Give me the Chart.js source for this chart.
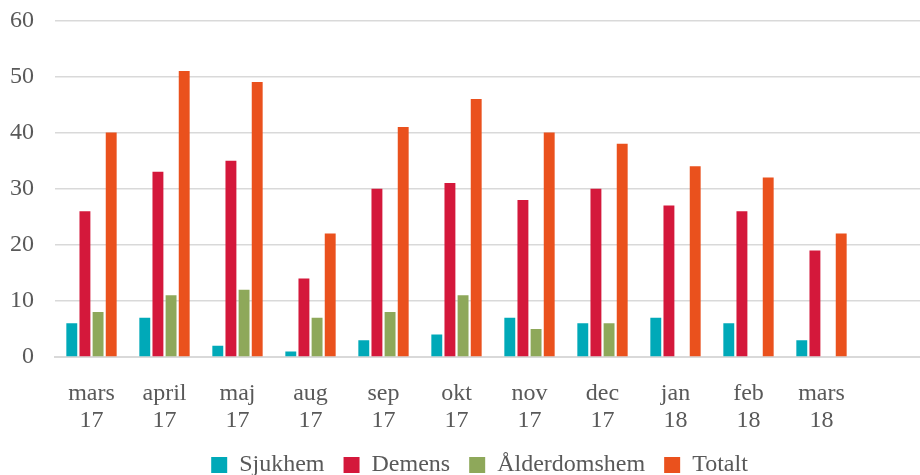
<!DOCTYPE html>
<html>
<head>
<meta charset="utf-8">
<script src="https://cdn.jsdelivr.net/npm/chart.js@4/dist/chart.umd.min.js"></script>
<style>
  html, body { margin: 0; padding: 0; background: #fff; overflow: hidden; }
  #wrap { width: 959px; height: 502px; margin-top: -15px; }
</style>
</head>
<body>
<div id="wrap"><canvas id="chart"></canvas></div>
<script>
// Data
const months = [['mars', '17'], ['april', '17'], ['maj', '17'], ['aug', '17'], ['sep', '17'], ['okt', '17'],
                ['nov', '17'], ['dec', '17'], ['jan', '18'], ['feb', '18'], ['mars', '18'], ''];
const sjukhem = [6, 7, 2, 1, 3, 4, 7, 6, 7, 6, 3, null];
const demens = [26, 33, 35, 14, 30, 31, 28, 30, 27, 26, 19, null];
const alderdomshem = [8, 11, 12, 7, 8, 11, 5, 6, null, null, null, null];
const totalt = [40, 51, 49, 22, 41, 46, 40, 38, 34, 32, 22, null];
const yTicks = [0, 10, 20, 30, 40, 50, 60];

const textColor = '#595959';
const gridColor = '#d9d9d9';
const serif = 'Liberation Serif, Times New Roman, serif';

const ctx = document.getElementById('chart').getContext('2d');

function bars(label, data, color) {
    return {
        label: label,
        data: data,
        backgroundColor: color,
        borderWidth: 0,
        categoryPercentage: 0.72,
        barPercentage: 0.83
    };
}

new Chart(ctx, {
    type: 'bar',
    data: {
        labels: months,
        datasets: [
            bars('Sjukhem', sjukhem, '#00a9b8'),
            bars('Demens', demens, '#d4183b'),
            bars('Ålderdomshem', alderdomshem, '#8ea85a'),
            bars('Totalt', totalt, '#ea511d')
        ]
    },
    options: {
        responsive: true,
        maintainAspectRatio: false,
        animation: false,
        layout: { padding: 0 },
        scales: {
            x: {
                afterFit: (scale) => { scale.height = 77; },   // padding + two label lines
                grid: { display: false, drawTicks: false },
                border: { display: true, color: gridColor, width: 2 },
                ticks: {
                    color: textColor,
                    font: { family: serif, size: 24, lineHeight: 1.1 },
                    padding: 24,
                    maxRotation: 0,
                    autoSkip: false
                }
            },
            y: {
                min: 0,
                max: 60,
                afterBuildTicks: (scale) => { scale.ticks = yTicks.map(v => ({ value: v })); },
                afterFit: (scale) => { scale.width = 55; },
                grid: { color: gridColor, lineWidth: 1.5, drawTicks: false },
                border: { display: false },
                ticks: {
                    color: textColor,
                    font: { family: serif, size: 24 },
                    padding: 21
                }
            },
            // empty right-hand axis, only reserves space so the plot ends where the original does
            yRight: {
                position: 'right',
                afterFit: (scale) => { scale.width = 28; },
                grid: { display: false, drawTicks: false },
                border: { display: false },
                ticks: { display: false }
            }
        },
        plugins: {
            legend: {
                position: 'bottom',
                labels: {
                    color: textColor,
                    font: { family: serif, size: 24 },
                    boxWidth: 16,
                    boxHeight: 16,
                    padding: 19
                }
            },
            tooltip: { enabled: false }
        }
    }
});
</script>
</body>
</html>
